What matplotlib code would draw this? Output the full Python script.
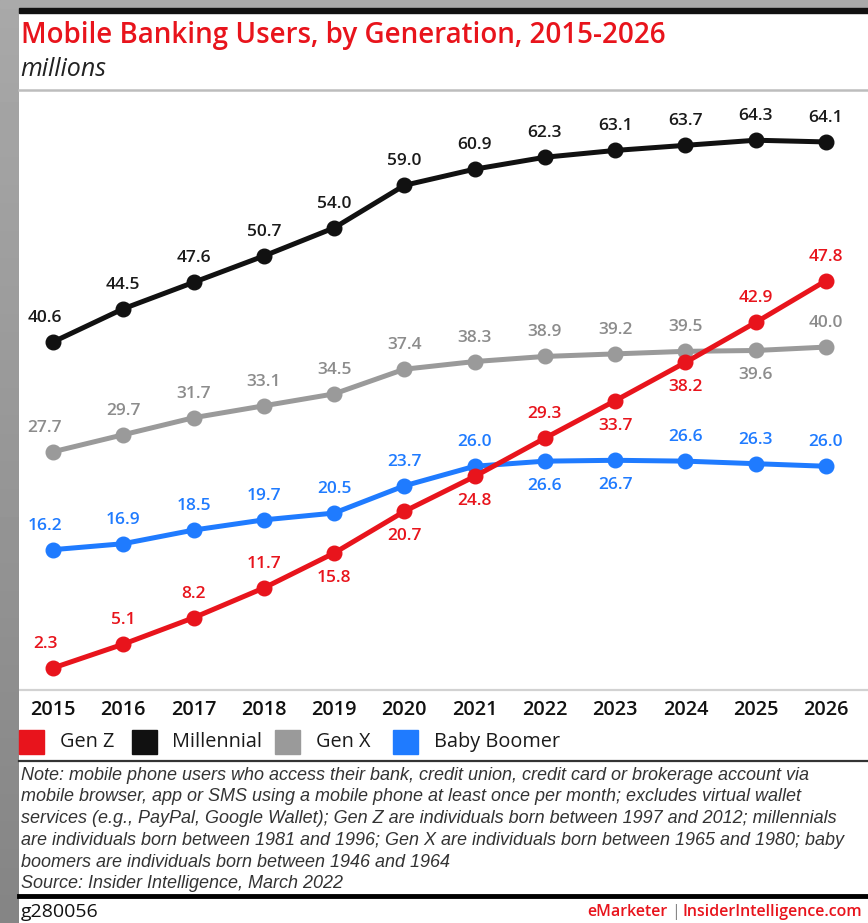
import numpy as np
import matplotlib
matplotlib.use('Agg')
import matplotlib.pyplot as plt
from matplotlib.lines import Line2D
from matplotlib.patches import Rectangle
from matplotlib import font_manager

# data
years = [2015, 2016, 2017, 2018, 2019, 2020, 2021, 2022, 2023, 2024, 2025, 2026]
gen_z = [2.3, 5.1, 8.2, 11.7, 15.8, 20.7, 24.8, 29.3, 33.7, 38.2, 42.9, 47.8]
millennial = [40.6, 44.5, 47.6, 50.7, 54.0, 59.0, 60.9, 62.3, 63.1, 63.7, 64.3, 64.1]
gen_x = [27.7, 29.7, 31.7, 33.1, 34.5, 37.4, 38.3, 38.9, 39.2, 39.5, 39.6, 40.0]
baby_boomer = [16.2, 16.9, 18.5, 19.7, 20.5, 23.7, 26.0, 26.6, 26.7, 26.6, 26.3, 26.0]

# which labels sit under the point
gen_z_below = [2019, 2020, 2021, 2023, 2024]
gen_x_below = [2025]
boomer_below = [2022, 2023]

RED = '#e8141c'
BLACK = '#111111'
GRAY = '#9a9a9a'
BLUE = '#1f7bff'

W, H = 868, 923
FONT = 'Open Sans'
names = {f.name for f in font_manager.fontManager.ttflist}
NARROW = 'Liberation Sans Narrow' if 'Liberation Sans Narrow' in names else 'Liberation Sans'


def fx(x):
    return x / W


def fy(y):
    return 1 - y / H


fig = plt.figure(figsize=(W / 100, H / 100), dpi=100)
fig.patch.set_facecolor('white')

# axes in pixel layout
ax = fig.add_axes([fx(19), fy(690), fx(W - 19), (690 - 90) / H])
ax.set_xlim(2015 - 34 / 70.27, 2026 + 42 / 70.27)
ax.set_ylim(-0.285, 70.2)

series = [
    ('Baby Boomer', baby_boomer, BLUE, boomer_below, BLUE),
    ('Gen X', gen_x, GRAY, gen_x_below, '#8c8c8c'),
    ('Millennial', millennial, BLACK, [], '#1a1a1a'),
    ('Gen Z', gen_z, RED, gen_z_below, RED),
]
for i, (name, vals, col, below, tcol) in enumerate(series):
    ax.plot(years, vals, color=col, lw=3.6, marker='o', ms=10.5,
            solid_capstyle='round', zorder=3 + i)
    for yr, v in zip(years, vals):
        dx = -8 if yr == 2015 else 0
        dy = -25 if yr in below else 24
        ax.annotate(f'{v:.1f}', (yr, v), xytext=(dx, dy), textcoords='offset pixels',
                    ha='center', va='center', fontsize=12.5, fontweight='semibold',
                    color=tcol, family=FONT, zorder=10)

ax.set_xticks(years)
ax.set_xticklabels([str(y) for y in years], fontsize=14.3, fontweight='semibold',
                   family=FONT, color='#111111')
ax.tick_params(axis='x', length=0, pad=7)
ax.set_yticks([])
for s in ['top', 'left', 'right']:
    ax.spines[s].set_visible(False)
ax.spines['bottom'].set_color('#d2d2d2')
ax.spines['bottom'].set_linewidth(1.6)

# title block
fig.text(fx(21), fy(36), 'Mobile Banking Users, by Generation, 2015-2026',
         color=RED, fontsize=20, family=FONT, fontweight='semibold', va='center', ha='left')
fig.text(fx(20), fy(70), 'millions', color='#222222', fontsize=18, style='italic',
         family=FONT, va='center', ha='left')
fig.add_artist(Line2D([fx(19), 1], [fy(90), fy(90)], color='#bdbdbd', lw=1.8,
                      transform=fig.transFigure))

# legend
legend_items = [('Gen Z', RED, 19, 60), ('Millennial', BLACK, 132, 172),
                ('Gen X', GRAY, 275, 316), ('Baby Boomer', BLUE, 393, 434)]
for label, col, sx, tx in legend_items:
    fig.add_artist(Rectangle((fx(sx), fy(754)), 25 / W, 24 / H, color=col,
                             transform=fig.transFigure))
    fig.text(fx(tx), fy(742), label, fontsize=14.3, family=FONT, color='#1a1a1a',
             va='center', ha='left')

fig.add_artist(Line2D([fx(19), 1], [fy(761), fy(761)], color='#333333', lw=1.6,
                      transform=fig.transFigure))

# notes
notes = [
    'Note: mobile phone users who access their bank, credit union, credit card or brokerage account via',
    'mobile browser, app or SMS using a mobile phone at least once per month; excludes virtual wallet',
    'services (e.g., PayPal, Google Wallet); Gen Z are individuals born between 1997 and 2012; millennials',
    'are individuals born between 1981 and 1996; Gen X are individuals born between 1965 and 1980; baby',
    'boomers are individuals born between 1946 and 1964',
    'Source: Insider Intelligence, March 2022',
]
for i, line in enumerate(notes):
    fig.text(fx(21), fy(775 + i * 21.8), line, fontsize=13.0, style='italic',
             family=[NARROW, 'DejaVu Sans'], color='#333333', va='center', ha='left')

fig.add_artist(Line2D([fx(19), 1], [fy(896), fy(896)], color='#000000', lw=3.5,
                      transform=fig.transFigure))

# footer
fig.text(fx(21), fy(912), 'g280056', fontsize=14, family=FONT, color='#111111',
         va='center', ha='left')
fig.text(fx(862), fy(912), 'InsiderIntelligence.com', fontsize=11.5, family=FONT,
         fontweight='semibold', color=RED, va='center', ha='right')
fig.text(fx(676), fy(912), '|', fontsize=11.5, family=FONT, color='#888888',
         va='center', ha='center')
fig.text(fx(667), fy(912), 'eMarketer', fontsize=11.5, family=FONT, fontweight='semibold',
         color=RED, va='center', ha='right')

# outer frame: gray strip left and top, black bar along the top
grad = fig.add_axes([0, 0, fx(19), 1])
grad.imshow(np.linspace(0.66, 0.52, 100).reshape(-1, 1), cmap='gray', vmin=0, vmax=1,
            aspect='auto', extent=[0, 1, 0, 1])
grad.axis('off')
fig.add_artist(Rectangle((0, fy(8)), 1, 8 / H, color='#aaaaaa', transform=fig.transFigure))
fig.add_artist(Rectangle((fx(19), fy(13)), 1, 5 / H, color='#111111',
                         transform=fig.transFigure))

fig.savefig('out.png', dpi=100)
